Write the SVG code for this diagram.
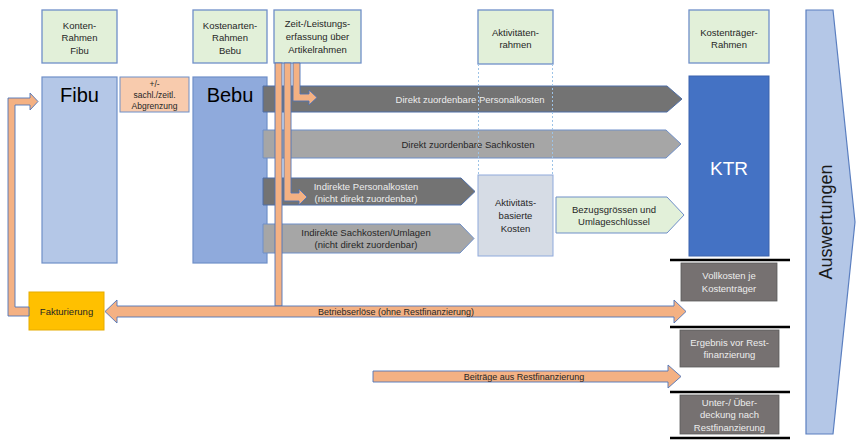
<svg xmlns="http://www.w3.org/2000/svg" width="856" height="442" viewBox="0 0 856 442">
<style>
text{font-family:"Liberation Sans",Arial,sans-serif;text-anchor:middle}
.hdr{fill:#E2F0D9;stroke:#6F8FC8;stroke-width:1.3}
.ht{font-size:9.5px;fill:#262626}
.big{font-size:20px;fill:#000}
.dk{fill:#737373;stroke:#4F6FA8;stroke-width:1}
.lt{fill:#A6A6A6;stroke:#6F8FC8;stroke-width:1}
.wt{font-size:9.5px;fill:#EDEDED}
.bt{font-size:9.5px;fill:#262626}
.or{fill:#F4B183;stroke:#4F74B8;stroke-width:0.9}
.res{fill:#767171;stroke:#5A5A5A;stroke-width:0.8}
.bar{stroke:#000;stroke-width:2.6}
</style>
<rect width="856" height="442" fill="#fff"/>

<g id="hdr-konten"><rect class="hdr" x="42" y="10" width="75" height="53"/>
<text class="ht" x="79.5" y="29">Konten-</text><text class="ht" x="79.5" y="41">Rahmen</text><text class="ht" x="79.5" y="54">Fibu</text></g>
<g id="hdr-kostenarten"><rect class="hdr" x="193" y="10" width="74" height="53"/>
<text class="ht" x="230" y="29">Kostenarten-</text><text class="ht" x="230" y="41">Rahmen</text><text class="ht" x="230" y="54">Bebu</text></g>
<g id="hdr-zeit"><rect class="hdr" x="274" y="10" width="87" height="53"/>
<text class="ht" x="317.5" y="27">Zeit-/Leistungs-</text><text class="ht" x="317.5" y="40">erfassung über</text><text class="ht" x="317.5" y="53">Artikelrahmen</text></g>
<g id="hdr-aktivitaeten"><rect class="hdr" x="478" y="10" width="75" height="54"/>
<text class="ht" x="515.5" y="36">Aktivitäten-</text><text class="ht" x="515.5" y="48">rahmen</text></g>
<g id="hdr-ktr"><rect class="hdr" x="689" y="10" width="80" height="53"/>
<text class="ht" x="729" y="36">Kostenträger-</text><text class="ht" x="729" y="48">Rahmen</text></g>

<g id="fibu"><rect x="42" y="77" width="75" height="186" fill="#B4C7E7" stroke="#6F8FC8" stroke-width="1.2"/>
<text class="big" x="79.5" y="102">Fibu</text></g>
<g id="abgrenzung"><rect x="120" y="77" width="69" height="35" fill="#F8CBAD" stroke="#6F8FC8" stroke-width="1"/>
<text style="font-size:8.5px;fill:#262626" x="154.5" y="87">+/-</text>
<text style="font-size:8.5px;fill:#262626" x="154.5" y="98">sachl./zeitl.</text>
<text style="font-size:8.5px;fill:#262626" x="154.5" y="109">Abgrenzung</text></g>
<g id="bebu"><rect x="193" y="77" width="74" height="186" fill="#8FAADC" stroke="#6F8FC8" stroke-width="1.2"/>
<text class="big" x="230" y="102">Bebu</text></g>

<g id="direkt-personal"><polygon class="dk" points="263,86 667,86 682,99 667,112 263,112"/>
<text class="wt" x="470" y="103">Direkt zuordenbare Personalkosten</text></g>
<g id="direkt-sach"><polygon class="lt" points="263,130 666,130 681,144 666,158 263,158"/>
<text class="bt" x="468" y="148">Direkt zuordenbare Sachkosten</text></g>
<g id="indirekt-personal"><polygon class="dk" points="263,178 461,178 475,191.5 461,205 263,205"/>
<text class="wt" x="366" y="190">Indirekte Personalkosten</text>
<text class="wt" x="366" y="202">(nicht direkt zuordenbar)</text></g>
<g id="indirekt-sach"><polygon class="lt" points="263,224 460,224 474,238.5 460,253 263,253"/>
<text class="bt" x="366" y="236">Indirekte Sachkosten/Umlagen</text>
<text class="bt" x="366" y="248">(nicht direkt zuordenbar)</text></g>

<g id="aktivitaetsbasiert"><rect x="478" y="175" width="75" height="81" fill="#D6DCE5" stroke="#8FAADC" stroke-width="1"/>
<text class="bt" x="515.5" y="206">Aktivitäts-</text><text class="bt" x="515.5" y="219">basierte</text><text class="bt" x="515.5" y="232">Kosten</text></g>
<g id="bezugsgroessen"><polygon points="556,197 667,197 684,215 667,233 556,233" fill="#E2F0D9" stroke="#6F8FC8" stroke-width="1"/>
<text class="bt" x="614" y="213">Bezugsgrössen und</text><text class="bt" x="614" y="225">Umlageschlüssel</text></g>

<g id="ktr"><rect x="689" y="76" width="80" height="180" fill="#4472C4" stroke="#3A63AD" stroke-width="1"/>
<text style="font-size:19px;fill:#fff" x="729" y="175">KTR</text></g>

<g id="ergebnis-stufen">
<line class="bar" x1="670" y1="260" x2="790" y2="260"/>
<line class="bar" x1="670" y1="327" x2="790" y2="327"/>
<line class="bar" x1="670" y1="392" x2="790" y2="392"/>
<line class="bar" x1="670" y1="438" x2="790" y2="438"/>
</g>
<g id="vollkosten"><rect class="res" x="681" y="263" width="96" height="38"/>
<text class="wt" x="729" y="279">Vollkosten je</text><text class="wt" x="729" y="292">Kostenträger</text></g>
<g id="ergebnis"><rect class="res" x="680" y="330" width="99" height="37"/>
<text class="wt" x="729.5" y="346">Ergebnis vor Rest-</text><text class="wt" x="729.5" y="358">finanzierung</text></g>
<g id="unterdeckung"><rect class="res" x="680" y="395" width="99" height="39"/>
<text class="wt" x="729.5" y="406">Unter-/ Über-</text><text class="wt" x="729.5" y="418">deckung nach</text><text class="wt" x="729.5" y="431">Restfinanzierung</text></g>

<g id="auswertungen"><polygon points="806,10 833,10 855,222 833,434 806,434" fill="#B4C7E7" stroke="#5B7FC0" stroke-width="1.2"/>
<text style="font-size:18px;fill:#1a1a1a" transform="translate(832,222) rotate(-90)">Auswertungen</text></g>

<g id="fakturierung"><rect x="29" y="292" width="75" height="38" fill="#FFC000" stroke="#E6AC00" stroke-width="1"/>
<text class="bt" x="66.5" y="315">Fakturierung</text></g>

<g id="connectors">
<line x1="478.5" y1="64" x2="478.5" y2="175" stroke="#9DC3E6" stroke-width="1" stroke-dasharray="2,2"/>
<line x1="552.5" y1="64" x2="552.5" y2="175" stroke="#9DC3E6" stroke-width="1" stroke-dasharray="2,2"/>
<polygon class="or" points="29,307 15,307 15,105 30,105 30,110 38,101.5 30,93 30,98 8,98 8,316 29,316"/>
<rect class="or" x="275" y="63" width="7" height="243"/>
<polygon class="or" points="284,63 291,63 291,193 299,193 299,189 307,197 299,205 299,201 284,201"/>
<polygon class="or" points="293,63 300,63 300,94 309,94 309,90 317,97.5 309,105 309,101 293,101"/>
<polygon class="or" points="105,311.5 117,300 117,306 674,306 674,300 686,311.5 674,323 674,317 117,317 117,323"/>
<text class="bt" style="font-size:9px" x="396" y="315">Betriebserlöse (ohne Restfinanzierung)</text>
<polygon class="or" points="373,371 668,371 668,365 681,376.5 668,388 668,382 373,382"/>
<text class="bt" style="font-size:9px" x="524" y="380">Beiträge aus Restfinanzierung</text>
</g>
</svg>
